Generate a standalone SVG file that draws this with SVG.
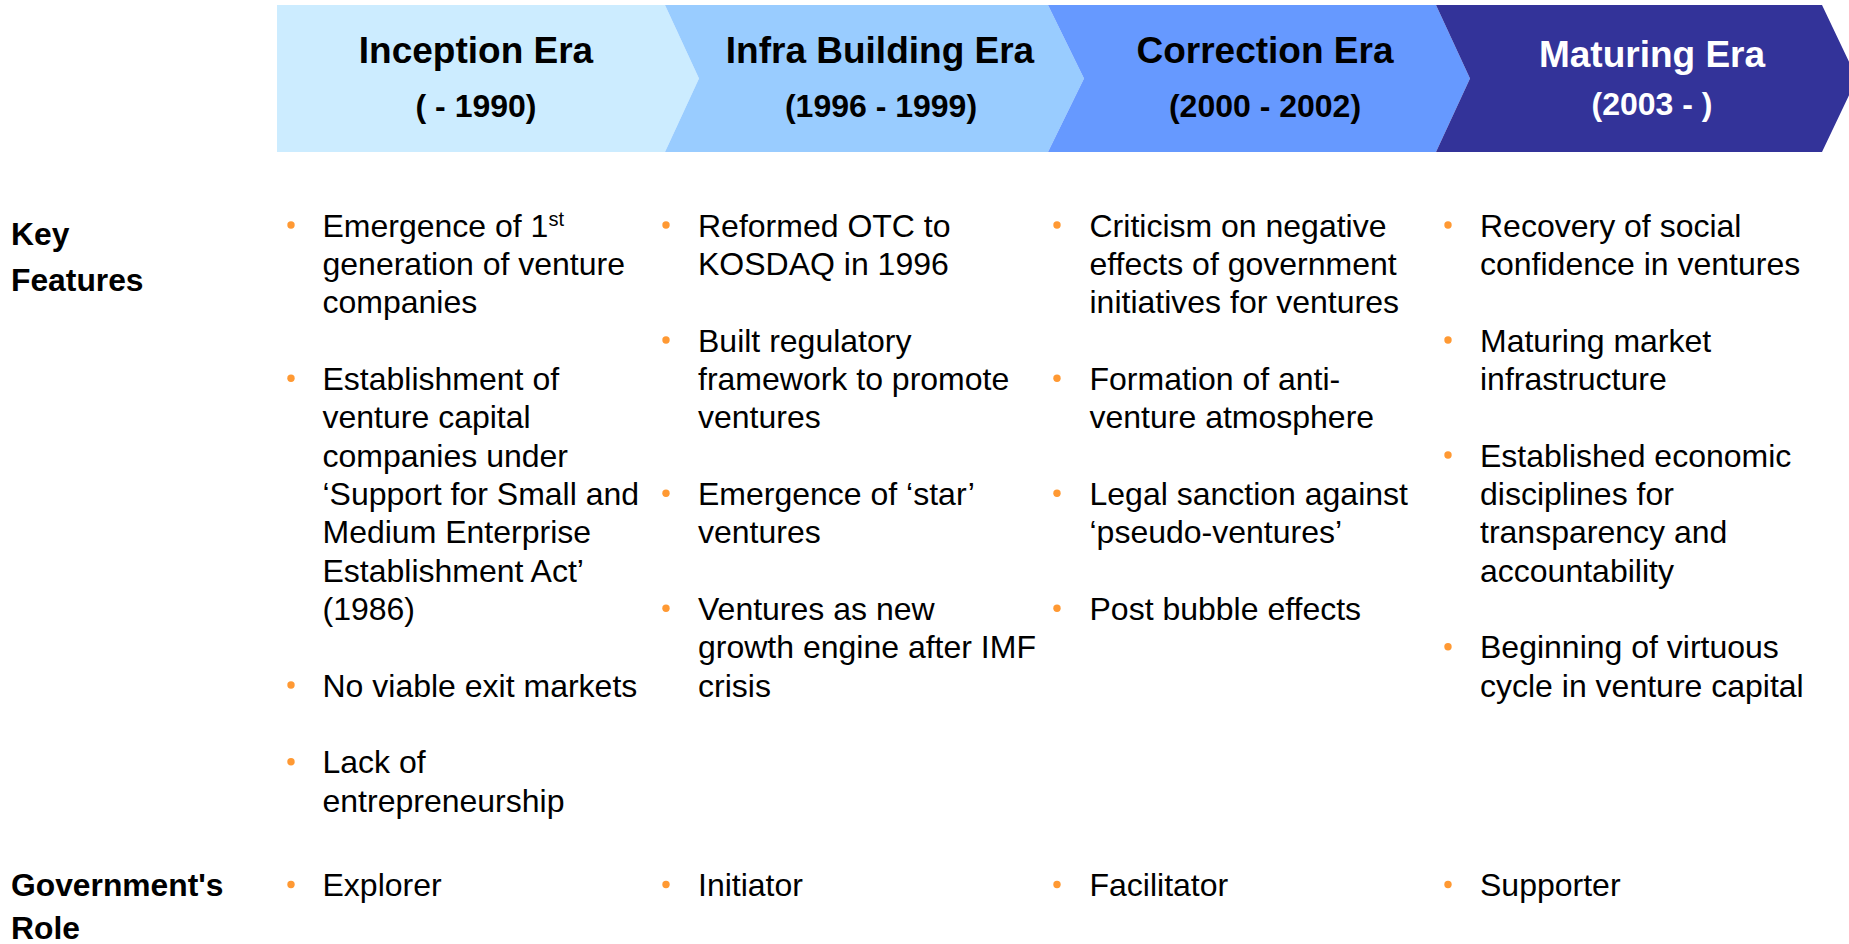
<svg xmlns="http://www.w3.org/2000/svg" width="1849" height="944" viewBox="0 0 1849 944">
<style>
text{font-family:"Liberation Sans",Arial,sans-serif;}
.hd{font-weight:bold;font-size:37px;text-anchor:middle;fill:#000;}
.yr{font-weight:bold;font-size:32px;text-anchor:middle;fill:#000;}
.w{fill:#fff;}
.lbl{font-weight:bold;font-size:31.8px;fill:#000;}
.t{font-size:32px;fill:#000;}
.b{fill:#FF9933;}
</style>
<rect width="1849" height="944" fill="#fff"/>
<g id="era-inception">
<polygon points="277,5 665,5 699,78.5 665,152 277,152" fill="#CCECFF"/>
<text class="hd" x="476" y="63">Inception Era</text>
<text class="yr" x="476" y="117">( - 1990)</text>
</g>
<g id="era-infra">
<polygon points="665,5 1048,5 1084,78.5 1048,152 665,152 699,78.5" fill="#99CCFF"/>
<text class="hd" x="880" y="63">Infra Building Era</text>
<text class="yr" x="881" y="117">(1996 - 1999)</text>
</g>
<g id="era-correction">
<polygon points="1048,5 1436,5 1470,78.5 1436,152 1048,152 1084,78.5" fill="#6699FF"/>
<text class="hd" x="1265" y="63">Correction Era</text>
<text class="yr" x="1265" y="117">(2000 - 2002)</text>
</g>
<g id="era-maturing">
<polygon points="1436,5 1822,5 1857,78.5 1822,152 1436,152 1470,78.5" fill="#333399"/>
<text class="hd w" x="1652" y="67">Maturing Era</text>
<text class="yr w" x="1652" y="115">(2003 - )</text>
</g>
<g id="row-labels">
<text class="lbl" x="11" y="245">Key</text>
<text class="lbl" x="11" y="291">Features</text>
<text class="lbl" x="11" y="896">Government's</text>
<text class="lbl" x="11" y="939">Role</text>
</g>
<g id="col-inception">
<circle class="b" cx="291" cy="225" r="3.7"/>
<text class="t" x="322.5" y="236.7">Emergence of 1<tspan font-size="20" dy="-11">st</tspan></text>
<text class="t" x="322.5" y="275">generation of venture</text>
<text class="t" x="322.5" y="313.3">companies</text>
<circle class="b" cx="291" cy="378.3" r="3.7"/>
<text class="t" x="322.5" y="390">Establishment of</text>
<text class="t" x="322.5" y="428.3">venture capital</text>
<text class="t" x="322.5" y="466.7">companies under</text>
<text class="t" x="322.5" y="505">‘Support for Small and</text>
<text class="t" x="322.5" y="543.3">Medium Enterprise</text>
<text class="t" x="322.5" y="581.7">Establishment Act’</text>
<text class="t" x="322.5" y="620">(1986)</text>
<circle class="b" cx="291" cy="685" r="3.7"/>
<text class="t" x="322.5" y="696.7">No viable exit markets</text>
<circle class="b" cx="291" cy="761.7" r="3.7"/>
<text class="t" x="322.5" y="773.3">Lack of</text>
<text class="t" x="322.5" y="811.7">entrepreneurship</text>
<circle class="b" cx="291" cy="884.5" r="3.7"/>
<text class="t" x="322.5" y="896">Explorer</text>
</g>
<g id="col-infra">
<circle class="b" cx="666" cy="225" r="3.7"/>
<text class="t" x="698" y="236.7">Reformed OTC to</text>
<text class="t" x="698" y="275">KOSDAQ in 1996</text>
<circle class="b" cx="666" cy="340" r="3.7"/>
<text class="t" x="698" y="351.7">Built regulatory</text>
<text class="t" x="698" y="390">framework to promote</text>
<text class="t" x="698" y="428.3">ventures</text>
<circle class="b" cx="666" cy="493.3" r="3.7"/>
<text class="t" x="698" y="505">Emergence of ‘star’</text>
<text class="t" x="698" y="543.3">ventures</text>
<circle class="b" cx="666" cy="608.3" r="3.7"/>
<text class="t" x="698" y="620">Ventures as new</text>
<text class="t" x="698" y="658.3">growth engine after IMF</text>
<text class="t" x="698" y="696.7">crisis</text>
<circle class="b" cx="666" cy="884.5" r="3.7"/>
<text class="t" x="698" y="896">Initiator</text>
</g>
<g id="col-correction">
<circle class="b" cx="1057" cy="225" r="3.7"/>
<text class="t" x="1089.5" y="236.7">Criticism on negative</text>
<text class="t" x="1089.5" y="275">effects of government</text>
<text class="t" x="1089.5" y="313.3">initiatives for ventures</text>
<circle class="b" cx="1057" cy="378.3" r="3.7"/>
<text class="t" x="1089.5" y="390">Formation of anti-</text>
<text class="t" x="1089.5" y="428.3">venture atmosphere</text>
<circle class="b" cx="1057" cy="493.3" r="3.7"/>
<text class="t" x="1089.5" y="505">Legal sanction against</text>
<text class="t" x="1089.5" y="543.3">‘pseudo-ventures’</text>
<circle class="b" cx="1057" cy="608.3" r="3.7"/>
<text class="t" x="1089.5" y="620">Post bubble effects</text>
<circle class="b" cx="1057" cy="884.5" r="3.7"/>
<text class="t" x="1089.5" y="896">Facilitator</text>
</g>
<g id="col-maturing">
<circle class="b" cx="1448" cy="225" r="3.7"/>
<text class="t" x="1480" y="236.7">Recovery of social</text>
<text class="t" x="1480" y="275">confidence in ventures</text>
<circle class="b" cx="1448" cy="340" r="3.7"/>
<text class="t" x="1480" y="351.7">Maturing market</text>
<text class="t" x="1480" y="390">infrastructure</text>
<circle class="b" cx="1448" cy="455" r="3.7"/>
<text class="t" x="1480" y="466.7">Established economic</text>
<text class="t" x="1480" y="505">disciplines for</text>
<text class="t" x="1480" y="543.3">transparency and</text>
<text class="t" x="1480" y="581.7">accountability</text>
<circle class="b" cx="1448" cy="646.7" r="3.7"/>
<text class="t" x="1480" y="658.3">Beginning of virtuous</text>
<text class="t" x="1480" y="696.7">cycle in venture capital</text>
<circle class="b" cx="1448" cy="884.5" r="3.7"/>
<text class="t" x="1480" y="896">Supporter</text>
</g>
<g id="connectors"/>
</svg>
